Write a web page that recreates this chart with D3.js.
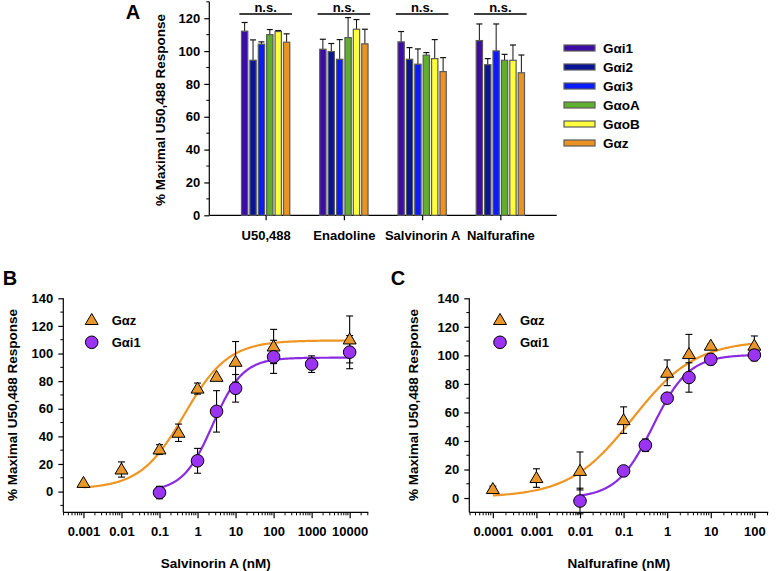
<!DOCTYPE html>
<html>
<head>
<meta charset="utf-8">
<script src="https://cdn.jsdelivr.net/npm/d3@7"></script>
<style>
  html, body { margin: 0; padding: 0; background: #fff; }
  svg { display: block; }
  text { font-family: "Liberation Sans", Arial, sans-serif; font-weight: bold; fill: #000; }
</style>
</head>
<body>
<svg id="chart" width="777" height="571"></svg>
<script>
// ---------------- DATA ----------------
// Panel A
const drugs = ["U50,488", "Enadoline", "Salvinorin A", "Nalfurafine"];
const subtypes = ["Gαi1", "Gαi2", "Gαi3", "GαoA", "GαoB", "Gαz"];
const u50488Mean = [112.1, 94.4, 104.2, 110.0, 111.9, 105.4];
const u50488Err  = [5.3, 12.4, 1.4, 3.1, 0.6, 5.1];
const enadolineMean = [101.1, 99.7, 95.0, 108.2, 113.3, 104.4];
const enadolineErr  = [6.1, 4.9, 12.0, 12.2, 5.9, 8.9];
const salvinorinMean = [105.6, 95.0, 92.0, 97.5, 95.4, 87.5];
const salvinorinErr  = [6.3, 7.1, 9.3, 1.6, 11.6, 8.5];
const nalfurafineMean = [106.4, 91.7, 100.1, 94.4, 94.4, 86.8];
const nalfurafineErr  = [10.1, 3.7, 16.4, 3.6, 9.3, 10.8];
const sigLabels = ["n.s.", "n.s.", "n.s.", "n.s."];
const yTicksA = [0, 20, 40, 60, 80, 100, 120];

// Panel B (Salvinorin A)
const salvDoseZ = [0.001, 0.01, 0.1, 0.316, 1, 3.16, 10, 100, 10000];
const salvRespZ = [6.3, 16.0, 30.5, 42.6, 74.6, 83.1, 94.0, 105.1, 110.2];
const salvErrZ  = [0, 5.5, 3.5, 6.3, 4.0, 1.0, 14.7, 12.4, 17.0];
const salvDoseI1 = [0.1, 1, 3.16, 10, 100, 1000, 10000];
const salvRespI1 = [-0.7, 22.3, 58.1, 74.8, 97.6, 92.3, 101.0];
const salvErrI1  = [4.5, 9.0, 15.0, 10.0, 12.0, 6.0, 12.0];
// fitted curve parameters: [bottom, top, logEC50, hill, logMin, logMax]
const salvFitZ  = [2, 109.5, -0.35, 0.75, -3, 4];
const salvFitI1 = [0, 97, 0.4, 1.1, -1, 4];
const salvTicks = ["0.001", "0.01", "0.1", "1", "10", "100", "1000", "10000"];

// Panel C (Nalfurafine)
const nalDoseZ = [0.0001, 0.001, 0.01, 0.1, 1, 3.16, 10, 100];
const nalRespZ = [6.3, 14.0, 19.0, 54.6, 87.8, 100.9, 106.8, 106.8];
const nalErrZ  = [2.0, 6.5, 13.3, 9.3, 9.0, 13.8, 1.0, 6.8];
const nalDoseI1 = [0.01, 0.1, 0.316, 1, 3.16, 10, 100];
const nalRespI1 = [-2.1, 19.0, 37.0, 70.0, 84.5, 97.2, 100.2];
const nalErrI1  = [9.0, 1.0, 4.4, 1.0, 10.3, 3.7, 4.0];
const nalFitZ  = [0.5, 110.5, -0.8, 0.6, -4, 2];
const nalFitI1 = [0, 100.5, -0.33, 1.05, -2, 2];
const nalTicks = ["0.0001", "0.001", "0.01", "0.1", "1", "10", "100"];
const yTicksBC = [0, 20, 40, 60, 80, 100, 120, 140];

// ---------------- STYLE ----------------
const barColors = ["#3d0ca6", "#0a1596", "#0a1cff", "#5fae2e", "#ffff3a", "#ea9222"];
const orange = "#ef9523";
const purple = "#8a2be2";
const triFill = "#e9962a";
const circFill = "#9a33f2";

const svg = d3.select("#chart");

// ================= PANEL A =================
const yA = d3.scaleLinear().domain([0, 130]).range([215.3, 1.8]);
const xA = d3.scalePoint().domain(drugs).range([209.3, 556.7]).padding(0.72);
const barStep = 8.4, barW = 6.3;
const xSub = d3.scalePoint().domain(subtypes).range([-2.5 * barStep, 2.5 * barStep]);
const meansA = [u50488Mean, enadolineMean, salvinorinMean, nalfurafineMean];
const errsA = [u50488Err, enadolineErr, salvinorinErr, nalfurafineErr];

const gA = svg.append("g");
// y axis
const yAxisA = d3.axisLeft(yA).tickValues(yTicksA).tickSize(5).tickPadding(4).tickFormat(d3.format("d"));
const yaG = gA.append("g").attr("transform", "translate(209.3,0)").call(yAxisA);
yaG.select(".domain").attr("d", `M0,${yA(0)}V${yA(130)}`);
yaG.selectAll("text").style("font-size", "13px");
gA.append("g").selectAll("line").data(d3.range(10, 131, 20)).join("line")
  .attr("x1", 209.3 - 3).attr("x2", 209.3).attr("y1", d => yA(d)).attr("y2", d => yA(d))
  .attr("stroke", "#000");
// x axis
const xaG = gA.append("g").attr("transform", `translate(0,${yA(0)})`)
  .call(d3.axisBottom(xA).tickSize(5).tickPadding(10));
xaG.select(".domain").attr("d", `M209.3,0H556.7`);
xaG.selectAll("text").style("font-size", "13px");
gA.selectAll(".domain, .tick line").attr("stroke", "#000").attr("stroke-width", 1.2);

// bars
drugs.forEach((drug, gi) => {
  const g = gA.append("g");
  subtypes.forEach((s, si) => {
    const cx = xA(drug) + xSub(s);
    const m = meansA[gi][si], e = errsA[gi][si];
    g.append("line").attr("x1", cx).attr("x2", cx).attr("y1", yA(m)).attr("y2", yA(m + e))
      .attr("stroke", "#111").attr("stroke-width", 1);
    g.append("line").attr("x1", cx - 3).attr("x2", cx + 3).attr("y1", yA(m + e)).attr("y2", yA(m + e))
      .attr("stroke", "#111").attr("stroke-width", 1.2);
    g.append("rect").attr("x", cx - barW / 2).attr("y", yA(m)).attr("width", barW)
      .attr("height", yA(0) - yA(m)).attr("fill", barColors[si])
      .attr("stroke", "#5a5a5a").attr("stroke-width", 1.2);
  });
  // significance
  g.append("line").attr("x1", xA(drug) - 26.3).attr("x2", xA(drug) + 26.3)
    .attr("y1", 14).attr("y2", 14).attr("stroke", "#000").attr("stroke-width", 1.3);
  g.append("text").attr("x", xA(drug)).attr("y", 12).attr("text-anchor", "middle")
    .style("font-size", "13px").text(sigLabels[gi]);
});

// y title A
gA.append("text").attr("transform", "translate(160,110) rotate(-90)")
  .attr("text-anchor", "middle").attr("dy", "0.35em").style("font-size", "13.5px")
  .text("% Maximal U50,488 Response");
// panel label A
svg.append("text").attr("x", 133).attr("y", 19).attr("text-anchor", "middle")
  .style("font-size", "20px").text("A");

// legend A
const legA = svg.append("g");
subtypes.forEach((s, i) => {
  const y = 48 + i * 19;
  legA.append("rect").attr("x", 564).attr("y", y - 3).attr("width", 31).attr("height", 6)
    .attr("fill", barColors[i]).attr("stroke", "#5a5a5a").attr("stroke-width", 1.2);
  legA.append("text").attr("x", 603).attr("y", y).attr("dy", "0.35em")
    .style("font-size", "13.5px").text(s);
});

// ================= PANELS B & C =================
function logistic(p, x) {
  const [bottom, top, logEC50, hill] = p;
  return bottom + (top - bottom) / (1 + Math.pow(10, (logEC50 - Math.log10(x)) * hill));
}

function drawCurvePanel(opt) {
  const g = svg.append("g");
  const x = d3.scaleLog().domain(opt.xDomain).range(opt.xRange);
  const y = d3.scaleLinear().domain(opt.yDomain).range([512.3, 298.3]);
  const x0 = opt.xRange[0], x1 = opt.xRange[1];

  // y axis
  const ya = g.append("g").attr("transform", `translate(${x0},0)`)
    .call(d3.axisLeft(y).tickValues(yTicksBC).tickSize(5).tickPadding(5).tickFormat(d3.format("d")));
  ya.select(".domain").attr("d", `M0,${y(opt.yDomain[0])}V${y(140)}`);
  ya.selectAll("text").style("font-size", "13px");
  const minorY = d3.range(-10, 140, 20).filter(v => v > opt.yDomain[0]);
  g.append("g").selectAll("line").data(minorY).join("line")
    .attr("x1", x0 - 3).attr("x2", x0).attr("y1", d => y(d)).attr("y2", d => y(d)).attr("stroke", "#000");

  // x axis
  const majors = opt.tickLabels.map(Number);
  const xa = g.append("g").attr("transform", `translate(0,${y(opt.yDomain[0])})`)
    .call(d3.axisBottom(x).tickValues(majors).tickSize(6).tickPadding(8)
      .tickFormat((d, i) => opt.tickLabels[i]));
  xa.select(".domain").attr("d", `M${x0},0H${x1}`);
  xa.selectAll("text").style("font-size", "13px");
  const lo = Math.floor(Math.log10(opt.xDomain[0])), hi = Math.ceil(Math.log10(opt.xDomain[1]));
  const minorX = [];
  for (let e = lo; e <= hi; e++) for (let k = 2; k <= 9; k++) {
    const v = k * Math.pow(10, e);
    if (v > opt.xDomain[0] && v < opt.xDomain[1]) minorX.push(v);
  }
  g.append("g").selectAll("line").data(minorX).join("line")
    .attr("x1", d => x(d)).attr("x2", d => x(d))
    .attr("y1", y(opt.yDomain[0])).attr("y2", y(opt.yDomain[0]) + 3).attr("stroke", "#000");
  g.selectAll(".domain, .tick line").attr("stroke", "#000").attr("stroke-width", 1.2);

  // curves
  const line = d3.line().x(d => x(d[0])).y(d => y(d[1]));
  opt.series.forEach(s => {
    const p = s.fit;
    const pts = d3.range(0, 201).map(i => {
      const lx = p[4] + (p[5] - p[4]) * i / 200;
      const xv = Math.pow(10, lx);
      return [xv, logistic(p, xv)];
    });
    g.append("path").attr("d", line(pts)).attr("fill", "none")
      .attr("stroke", s.color).attr("stroke-width", 2.2);
  });

  // error bars + markers
  opt.series.forEach(s => {
    s.dose.forEach((dv, i) => {
      const cx = x(dv), m = s.resp[i], e = s.err[i];
      if (e > 0) {
        g.append("line").attr("x1", cx).attr("x2", cx).attr("y1", y(m - e)).attr("y2", y(m + e))
          .attr("stroke", "#000").attr("stroke-width", 1.1);
        [m - e, m + e].forEach(v => g.append("line").attr("x1", cx - 3.5).attr("x2", cx + 3.5)
          .attr("y1", y(v)).attr("y2", y(v)).attr("stroke", "#000").attr("stroke-width", 1.1));
      }
    });
  });
  opt.series.forEach(s => {
    s.dose.forEach((dv, i) => {
      drawMarker(g, s.shape, x(dv), y(s.resp[i]));
    });
  });

  // legend
  opt.series.forEach((s, i) => {
    const ly = 320 + i * 22.3;
    drawMarker(g, s.shape, opt.legX, ly);
    g.append("text").attr("x", opt.legX + 20).attr("y", ly).attr("dy", "0.35em")
      .style("font-size", "13px").text(s.name);
  });

  // titles
  g.append("text").attr("x", (x0 + x1) / 2).attr("y", 568).attr("text-anchor", "middle")
    .style("font-size", "13.5px").text(opt.xTitle);
  g.append("text").attr("transform", `translate(${opt.yTitleX},405) rotate(-90)`)
    .attr("text-anchor", "middle").attr("dy", "0.35em").style("font-size", "13.5px")
    .text("% Maximal U50,488 Response");
  g.append("text").attr("x", opt.labelX).attr("y", 285).attr("text-anchor", "middle")
    .style("font-size", "20px").text(opt.label);
}

function drawMarker(g, shape, cx, cy) {
  if (shape === "triangle") {
    g.append("path").attr("d", `M${cx},${cy - 6.5}L${cx + 6.5},${cy + 4.5}L${cx - 6.5},${cy + 4.5}Z`)
      .attr("fill", triFill).attr("stroke", "#000").attr("stroke-width", 1);
  } else {
    g.append("circle").attr("cx", cx).attr("cy", cy).attr("r", 6.3)
      .attr("fill", circFill).attr("stroke", "#000").attr("stroke-width", 1);
  }
}

drawCurvePanel({
  label: "B", labelX: 10,
  xDomain: [Math.pow(10, -3.53), Math.pow(10, 4.49)], xRange: [63.3, 368.3],
  yDomain: [-15, 140], tickLabels: salvTicks,
  xTitle: "Salvinorin A (nM)", yTitleX: 12, legX: 91.7,
  series: [
    { name: "Gαz", shape: "triangle", color: orange, dose: salvDoseZ, resp: salvRespZ, err: salvErrZ, fit: salvFitZ },
    { name: "Gαi1", shape: "circle", color: purple, dose: salvDoseI1, resp: salvRespI1, err: salvErrI1, fit: salvFitI1 }
  ]
});

drawCurvePanel({
  label: "C", labelX: 398,
  xDomain: [Math.pow(10, -4.54), Math.pow(10, 2.32)], xRange: [469.3, 768.3],
  yDomain: [-10, 140], tickLabels: nalTicks,
  xTitle: "Nalfurafine (nM)", yTitleX: 413, legX: 500,
  series: [
    { name: "Gαz", shape: "triangle", color: orange, dose: nalDoseZ, resp: nalRespZ, err: nalErrZ, fit: nalFitZ },
    { name: "Gαi1", shape: "circle", color: purple, dose: nalDoseI1, resp: nalRespI1, err: nalErrI1, fit: nalFitI1 }
  ]
});
</script>
</body>
</html>
